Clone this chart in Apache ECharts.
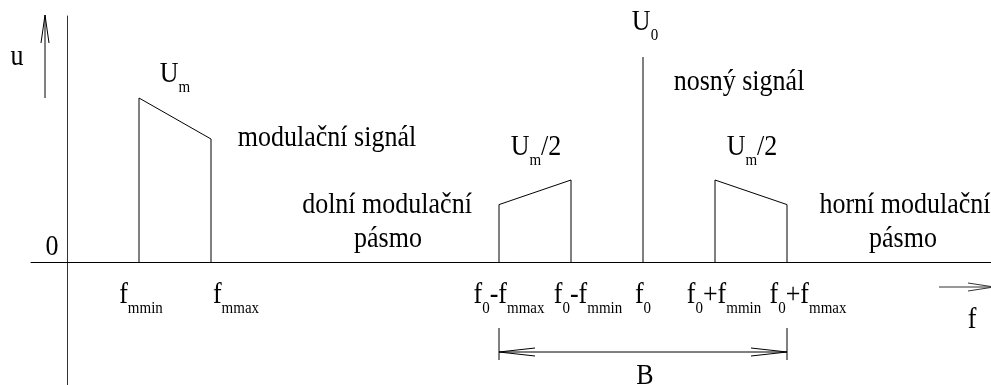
<!DOCTYPE html>
<html>
<head>
<meta charset="utf-8">
<script src="https://cdn.jsdelivr.net/npm/echarts@6/dist/echarts.min.js"></script>
<style>
  html, body { margin: 0; padding: 0; background: #fff; }
  #chart { width: 991px; height: 385px; }
</style>
</head>
<body>
<div id="chart"></div>
<script>
// spektrum AM signálu (f v násobcích f_mmin, u relativně k U_m)
const modF = [1, 2];          // f_mmin, f_mmax
const modU = [1.0, 0.75];
const lsbF = [6, 7];          // f0-f_mmax, f0-f_mmin
const lsbU = [0.35, 0.5];
const carrierF = [8, 8];      // f0
const carrierU = [0, 1.25];   // U0
const usbF = [9, 10];         // f0+f_mmin, f0+f_mmax
const usbU = [0.5, 0.35];

const tickValues = [1, 2, 6, 7, 8, 9, 10];
const tickLabels = [
  '{n|f}{s|mmin}',
  '{n|f}{s|mmax}',
  '{n|f}{s|0}{n|-f}{s|mmax}',
  '{n|f}{s|0}{n|-f}{s|mmin}',
  '{n|f}{s|0}',
  '{n|f}{s|0}{n|+f}{s|mmin}',
  '{n|f}{s|0}{n|+f}{s|mmax}'
];
// posun popisků vůči značce (px)
const tickShift = [2, 25, 10, 17, 0, 9, 21];

const FONT = '"Liberation Serif", "Times New Roman", serif';
const SY = 1.12; // písmo v originále je mírně protažené
const rich = {
  n: { fontSize: 26, lineHeight: 26, verticalAlign: 'top', fontFamily: FONT, color: '#000' },
  s: { fontSize: 15, lineHeight: 15, verticalAlign: 'top', padding: [18, 0, 0, 0], fontFamily: FONT, color: '#000' }
};

// popisky v obrázku (střed, px)
const notes = [
  { text: '{n|u}', x: 17, y: 57 },
  { text: '{n|0}', x: 52, y: 247 },
  { text: '{n|U}{s|m}', x: 175, y: 74 },
  { text: '{n|modulační signál}', x: 327, y: 138 },
  { text: '{n|dolní modulační}', x: 387, y: 205 },
  { text: '{n|pásmo}', x: 388, y: 239 },
  { text: '{n|U}{s|m}{n|/2}', x: 536, y: 147 },
  { text: '{n|U}{s|0}', x: 645, y: 22 },
  { text: '{n|nosný signál}', x: 739, y: 82 },
  { text: '{n|U}{s|m}{n|/2}', x: 752, y: 147 },
  { text: '{n|horní modulační}', x: 905, y: 205 },
  { text: '{n|pásmo}', x: 903, y: 239 },
  { text: '{n|B}', x: 645, y: 376 },
  { text: '{n|f}', x: 972, y: 320 }
];

const outline = (f, u) => [[f[0], 0], [f[0], u[0]], [f[1], u[1]], [f[1], 0]];
const pairs = (f, u) => f.map((v, i) => [v, u[i]]);

const lineStyle = { color: '#000', width: 1 };
const bandSeries = (name, data) => ({
  name,
  type: 'line',
  data,
  symbol: 'none',
  lineStyle,
  silent: true,
  animation: false
});

const chart = echarts.init(document.getElementById('chart'));

chart.setOption({
  animation: false,
  grid: { left: 31, right: 0, top: 16, bottom: 0 },
  xAxis: {
    type: 'value',
    min: -0.5,
    max: 12.8333,
    axisLine: { show: true, onZero: true, lineStyle: { color: '#000', width: 1 } },
    axisTick: { show: false },
    axisLabel: { show: false },
    splitLine: { show: false }
  },
  yAxis: {
    type: 'value',
    min: -0.75,
    max: 1.5,
    axisLine: { show: true, onZero: true, lineStyle: { color: '#333', width: 1 } },
    axisTick: { show: false },
    axisLabel: { show: false },
    splitLine: { show: false }
  },
  series: [
    bandSeries('modulační signál', outline(modF, modU)),
    bandSeries('dolní modulační pásmo', outline(lsbF, lsbU)),
    bandSeries('nosný signál', pairs(carrierF, carrierU)),
    bandSeries('horní modulační pásmo', outline(usbF, usbU)),
    {
      // popisky kmitočtů
      type: 'custom',
      silent: true,
      animation: false,
      data: tickValues.map((v, i) => [v, 0, i]),
      encode: { x: 0, y: 1 },
      renderItem: (params, api) => {
        const i = api.value(2);
        const p = api.coord([api.value(0), 0]);
        return {
          type: 'text',
          x: p[0] + tickShift[i],
          y: p[1] + 33 - 13 * SY,
          scaleY: SY,
          style: { text: tickLabels[i], rich, align: 'center', verticalAlign: 'top' }
        };
      }
    },
    {
      // šířka pásma B
      type: 'custom',
      silent: true,
      animation: false,
      data: [[lsbF[0], usbF[1]]],
      encode: { x: [0, 1] },
      renderItem: (params, api) => {
        const a = api.coord([api.value(0), 0]);
        const b = api.coord([api.value(1), 0]);
        const y0 = a[1];
        const yh = y0 + 90;
        const st = { stroke: '#000', lineWidth: 1, fill: null };
        return {
          type: 'group',
          children: [
            { type: 'line', shape: { x1: a[0], y1: y0 + 66, x2: a[0], y2: y0 + 98 }, style: st },
            { type: 'line', shape: { x1: b[0], y1: y0 + 66, x2: b[0], y2: y0 + 98 }, style: st },
            { type: 'line', shape: { x1: a[0], y1: yh, x2: b[0], y2: yh }, style: st },
            { type: 'polyline', shape: { points: [[a[0] + 36, yh - 4], [a[0], yh], [a[0] + 36, yh + 4]] }, style: st },
            { type: 'polyline', shape: { points: [[b[0] - 36, yh - 4], [b[0], yh], [b[0] - 36, yh + 4]] }, style: st }
          ]
        };
      }
    }
  ],
  graphic: [
    // šipka u
    { type: 'line', shape: { x1: 45, y1: 15, x2: 45, y2: 98 }, style: { stroke: '#000', lineWidth: 1 } },
    { type: 'polyline', shape: { points: [[41, 43], [45, 15], [49, 43]] }, style: { stroke: '#000', lineWidth: 1, fill: null } },
    // šipka f
    { type: 'line', shape: { x1: 939, y1: 287, x2: 994, y2: 287 }, style: { stroke: '#333', lineWidth: 1 } },
    { type: 'polyline', shape: { points: [[968, 283], [994, 287], [968, 291]] }, style: { stroke: '#333', lineWidth: 1, fill: null } }
  ].concat(notes.map(n => ({
    type: 'text',
    x: n.x,
    y: n.y - 13 * SY,
    scaleY: SY,
    silent: true,
    style: { text: n.text, rich, align: 'center', verticalAlign: 'top' }
  })))
});
</script>
</body>
</html>
